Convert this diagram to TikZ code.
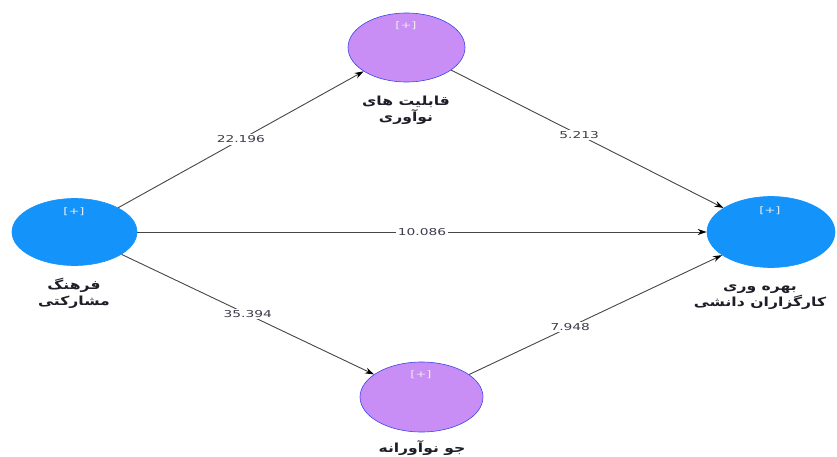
\documentclass[tikz,border=0pt]{standalone}
\usepackage{fontspec}
\usetikzlibrary{shapes.geometric,arrows.meta}
\TeXXeTstate=1
\newfontfamily\fafont[Script=Arabic,FakeStretch=1.25]{DejaVu Sans}
\newfontfamily\numfont[FakeStretch=1.45]{DejaVu Sans}
\definecolor{lvblue}{RGB}{20,148,250}
\definecolor{lvpurple}{RGB}{200,142,245}
\definecolor{lvedge}{RGB}{60,70,235}
\definecolor{edgegray}{RGB}{70,70,70}
\definecolor{numtext}{RGB}{60,60,75}
\definecolor{labtext}{RGB}{30,30,40}
\begin{document}
\begin{tikzpicture}[x=1pt,y=-1pt,
  bluelv/.style={ellipse,fill=lvblue,draw=lvblue,line width=0.6pt,inner sep=0pt},
  purplelv/.style={ellipse,fill=lvpurple,draw=lvedge,line width=0.6pt,inner sep=0pt},
  plus/.style={text=white!85!gray,inner sep=0pt,font=\numfont\fontsize{9}{10}\selectfont},
  fa/.style={font=\fafont\bfseries\fontsize{12.5}{16}\selectfont,align=center,text=labtext,inner sep=0pt},
  pth/.style={draw=edgegray,line width=0.9pt,-{Stealth[length=9pt,width=6pt,color=black]}},
  coef/.style={fill=white,inner sep=1.5pt,text=numtext,font=\numfont\fontsize{9.5}{10}\selectfont}]
\fill[white] (0,0) rectangle (837,457);
\useasboundingbox (0,0) rectangle (837,457);
% latent variables
\node[bluelv,minimum width=125pt,minimum height=67pt] (L) at (74.5,232) {};
\node[purplelv,minimum width=117pt,minimum height=69pt] (T) at (406.5,47.5) {};
\node[bluelv,minimum width=128pt,minimum height=71pt] (R) at (771,232) {};
\node[purplelv,minimum width=123pt,minimum height=70pt] (B) at (421.5,397) {};
% [+] markers
\node[plus] (Lp) at (74,212) {[+]};
\node[plus] (Tp) at (406,26) {[+]};
\node[plus] (Rp) at (770,211) {[+]};
\node[plus] (Bp) at (421,375) {[+]};
% labels
\node[fa] (Ll) at (74,293) {\beginR فرهنگ\endR\\\beginR مشارکتی\endR};
\node[fa] (Tl) at (406,110) {\beginR قابلیت های\endR\\\beginR نوآوری\endR};
\node[fa] (Rl) at (760,297) {\beginR بهره وری\endR\\\beginR کارگزاران دانشی\endR};
\node[fa] (Bl) at (422,448) {\beginR جو نوآورانه\endR};
% paths
\draw[pth] (L) -- node[coef] (c1) {22.196} (T);
\draw[pth] (L) -- node[coef] (c2) {10.086} (R);
\draw[pth] (L) -- node[coef] (c3) {35.394} (B);
\draw[pth] (T) -- node[coef,pos=0.47] (c4) {5.213} (R);
\draw[pth] (B) -- node[coef,pos=0.4] (c5) {7.948} (R);
\end{tikzpicture}
\end{document}
